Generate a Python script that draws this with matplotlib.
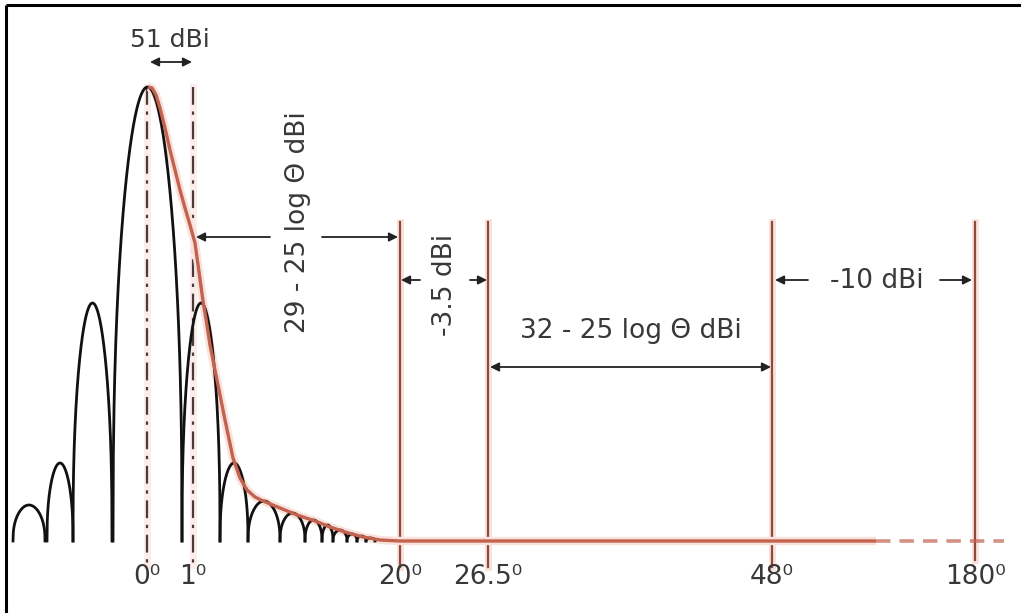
import numpy as np
import matplotlib
matplotlib.use("Agg")
import matplotlib.pyplot as plt

# ---------------- data (schematic diagram units: x = horizontal position, h = height above baseline)
angle_labels = ['0\u2070', '1\u2070', '20\u2070', '26.5\u2070', '48\u2070', '180\u2070']
angle_pos = [147, 193, 400, 488, 772, 975]

# lobes of the antenna pattern: left null, right null, peak height
lobe_left = [13, 47, 73, 113, 182, 220, 248, 280, 305, 322, 333, 347, 357, 366]
lobe_right = [45, 73, 112, 182, 220, 248, 280, 305, 322, 333, 347, 357, 366, 375]
lobe_peak = [36, 78, 238, 454, 238, 78, 40, 28, 21, 16, 11, 7, 5, 3]

# reference envelope (red)
env_x = [148, 152, 156, 160, 165, 170, 175, 180, 185, 190, 195, 200, 203, 206, 210,
         217, 225, 233, 240, 247, 255, 263, 280, 297, 315, 330, 345, 363, 380, 400, 876]
env_h = [454, 453, 446, 433, 413, 391, 371, 351, 333, 316, 298, 262, 240, 222, 196,
         161, 121, 83, 63, 51, 44, 40, 33, 26, 20, 14, 9, 4, 1, 0, 0]
env_dash_x = [876, 1004]

# annotations
seg_labels = ['51 dBi', '29 - 25 log \u0398 dBi', '-3.5 dBi', '32 - 25 log \u0398 dBi', '-10 dBi']

# ---------------- figure
W, H = 1021, 613
base_px = 541
fig = plt.figure(figsize=(W / 100, H / 100), dpi=100)
ax = fig.add_axes([0, 0, 1, 1])
ax.set_xlim(0, W)
ax.set_ylim(base_px - H, base_px)
ax.axis('off')


def py(y_pixel):
    return base_px - y_pixel


red = '#c2624f'
vred = '#8e4a3e'
halo = '#f9e2db'
txt = '#383838'
fs = 19

# border (top and left)
ax.plot([6, 6], [py(5), py(H)], color='black', lw=2.2, solid_capstyle='butt')
ax.plot([6, W], [py(5), py(5)], color='black', lw=2.2, solid_capstyle='butt')

# vertical region lines (20, 26.5, 48, 180)
for x, bot in zip(angle_pos[2:], [567, 567, 567, 560]):
    ax.plot([x, x], [py(222), py(bot)], color=halo, lw=5, zorder=1)
    ax.plot([x, x], [py(222), py(bot)], color=vred, lw=1.6, zorder=2)

# dash-dot lines at 0 and 1 degree
for x in angle_pos[:2]:
    ax.plot([x, x], [py(87), py(565)], color=halo, lw=5, zorder=1, alpha=0.6)
    ax.plot([x, x], [py(87), py(565)], color='#4a3a38', lw=1.6,
            linestyle=(0, (8, 3, 1.5, 3)), zorder=3)

# lobes
for a, b, h in zip(lobe_left, lobe_right, lobe_peak):
    t = np.linspace(0, 1, 200)
    xs = a + (b - a) * t
    ys = h * np.sin(np.pi * t) ** 0.4
    ax.plot(xs, ys, color='#111111', lw=2.0, zorder=4, solid_joinstyle='round')

# envelope
ax.plot(env_x, env_h, color=halo, lw=6, zorder=3, solid_capstyle='butt')
ax.plot(env_x, env_h, color=red, lw=2.4, zorder=5, solid_capstyle='butt',
        solid_joinstyle='round')
ax.plot(env_dash_x, [0, 0], color=red, lw=2.6, linestyle=(0, (4, 2.5)), zorder=5, alpha=0.7)

# tick labels
for x, lab in zip(angle_pos, angle_labels):
    ax.text(x, py(577), lab, ha='center', va='center', fontsize=fs, color=txt)


# arrow helper
def arrow(x0, x1, y, both=False):
    style = '<|-|>' if both else '-|>'
    ax.annotate('', xy=(x1, py(y)), xytext=(x0, py(y)),
                arrowprops=dict(arrowstyle=style, color='#222222', lw=1.3,
                                mutation_scale=13, shrinkA=0, shrinkB=0), zorder=6)


# 51 dBi
ax.text(170, py(40), seg_labels[0], ha='center', va='center', fontsize=18, color=txt)
arrow(150, 192, 62, both=True)

# 29 - 25 log theta dBi
ax.text(298, py(222), seg_labels[1], ha='center', va='center', rotation=90, fontsize=fs, color=txt)
arrow(270, 196, 237)
arrow(322, 398, 237)

# -3.5 dBi
ax.text(445, py(285), seg_labels[2], ha='center', va='center', rotation=90, fontsize=fs, color=txt)
arrow(420, 401, 280)
arrow(470, 487, 280)

# 32 - 25 log theta dBi
ax.text(631, py(331), seg_labels[3], ha='center', va='center', fontsize=fs, color=txt)
arrow(490, 771, 367, both=True)

# -10 dBi
ax.text(877, py(281), seg_labels[4], ha='center', va='center', fontsize=fs, color=txt)
arrow(808, 775, 280)
arrow(940, 972, 280)

fig.savefig('out.png', dpi=100)
